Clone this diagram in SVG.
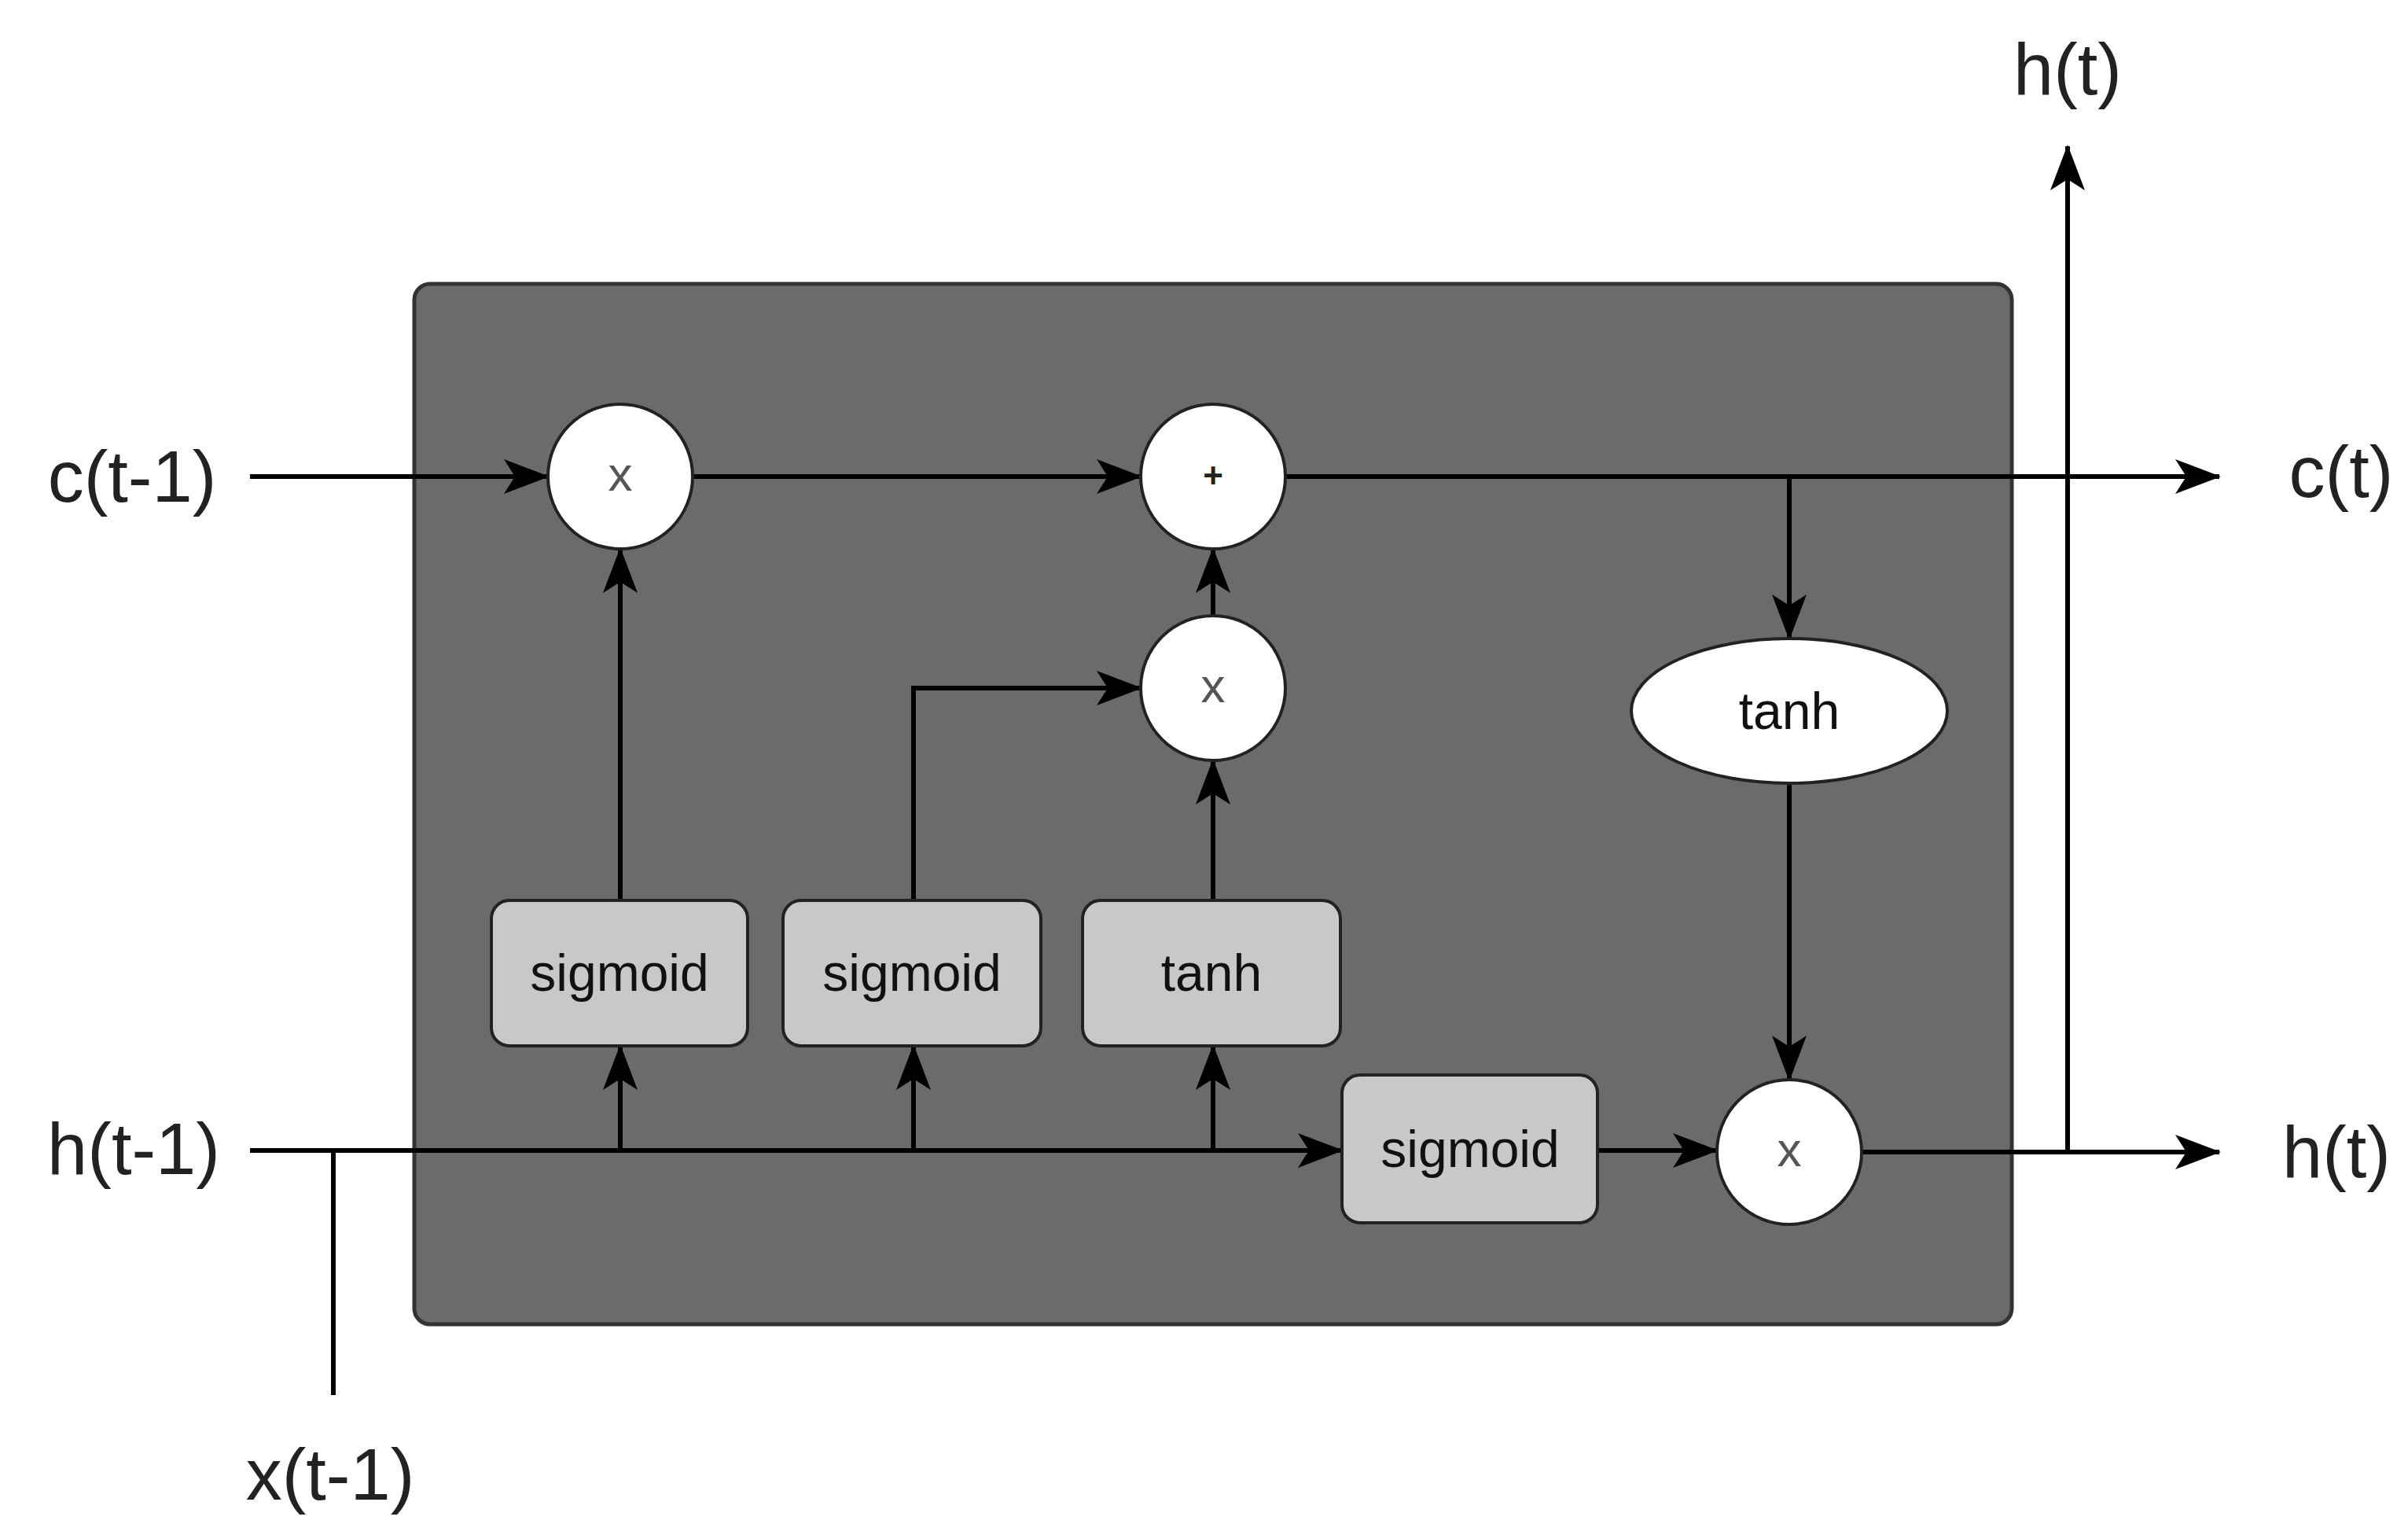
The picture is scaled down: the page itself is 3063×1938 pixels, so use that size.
<svg xmlns="http://www.w3.org/2000/svg" width="3063" height="1938" viewBox="0 0 3063 1938">
<style>
.lbl{font-family:"Liberation Sans",Arial,sans-serif;font-size:92px;fill:#222;text-anchor:middle;dominant-baseline:central}
.box{fill:#c8c8c8;stroke:#222;stroke-width:4}
.bt{font-family:"Liberation Sans",Arial,sans-serif;font-size:66px;fill:#111;text-anchor:middle;dominant-baseline:central}
.op{fill:#fff;stroke:#222;stroke-width:4}
.ot{font-family:"Liberation Sans",Arial,sans-serif;font-size:62px;fill:#555;text-anchor:middle;dominant-baseline:central}
.ln{fill:none;stroke:#000;stroke-width:6;marker-end:url(#a)}
.pl{fill:none;stroke:#000;stroke-width:6}
</style>
<defs>
<marker id="a" markerUnits="userSpaceOnUse" markerWidth="60" markerHeight="50" refX="56" refY="22" orient="auto">
<path d="M0,0 L58,22 L0,44 L14,22 Z" fill="#000"/>
</marker>
</defs>
<rect width="3063" height="1938" fill="#fff"/>
<g id="cell"><rect x="527" y="361" width="2032" height="1323" rx="20" fill="#6b6b6b" stroke="#333" stroke-width="5"/></g>
<g id="connectors">
<path class="ln" d="M318,606 H697"/>
<path class="ln" d="M881,606 H1451"/>
<path class="ln" d="M1635,606 H2823"/>
<path class="ln" d="M2276,606 V812"/>
<path class="ln" d="M2276,996 V1373"/>
<path class="ln" d="M2368,1465 H2823"/>
<path class="ln" d="M2630,1465 V186"/>
<path class="ln" d="M789,1145 V698"/>
<path class="ln" d="M1162,1145 V875 H1451"/>
<path class="ln" d="M1543,1145 V967"/>
<path class="ln" d="M1543,783 V698"/>
<path class="ln" d="M318,1463 H1707"/>
<path class="pl" d="M424,1463 V1774"/>
<path class="ln" d="M789,1463 V1330"/>
<path class="ln" d="M1162,1463 V1330"/>
<path class="ln" d="M1543,1463 V1330"/>
<path class="ln" d="M2032,1463 H2184"/>
</g>
<g id="mul1"><circle class="op" cx="789" cy="606" r="92"/><text class="ot" x="789" y="602">x</text></g>
<g id="add"><circle class="op" cx="1543" cy="606" r="92"/><text class="ot" x="1543" y="604" style="font-size:44px;font-weight:bold;fill:#222">+</text></g>
<g id="mul2"><circle class="op" cx="1543" cy="875" r="92"/><text class="ot" x="1543" y="871">x</text></g>
<g id="tanh2"><ellipse class="op" cx="2276" cy="904" rx="201" ry="92"/><text class="bt" x="2276" y="904">tanh</text></g>
<g id="mul3"><circle class="op" cx="2276" cy="1465" r="92"/><text class="ot" x="2276" y="1461">x</text></g>
<g id="sig1"><rect class="box" x="625" y="1145" width="326" height="185" rx="23"/><text class="bt" x="788" y="1237">sigmoid</text></g>
<g id="sig2"><rect class="box" x="996" y="1145" width="328" height="185" rx="23"/><text class="bt" x="1160" y="1237">sigmoid</text></g>
<g id="tanh1"><rect class="box" x="1377" y="1145" width="328" height="185" rx="23"/><text class="bt" x="1541" y="1237">tanh</text></g>
<g id="sig3"><rect class="box" x="1707" y="1367" width="325" height="188" rx="23"/><text class="bt" x="1870" y="1461">sigmoid</text></g>
<g id="labels">
<text class="lbl" x="168" y="606">c(t-1)</text>
<text class="lbl" x="170" y="1461">h(t-1)</text>
<text class="lbl" x="420" y="1875">x(t-1)</text>
<text class="lbl" x="2630" y="88">h(t)</text>
<text class="lbl" x="2978" y="600">c(t)</text>
<text class="lbl" x="2972" y="1465">h(t)</text>
</g>
</svg>
